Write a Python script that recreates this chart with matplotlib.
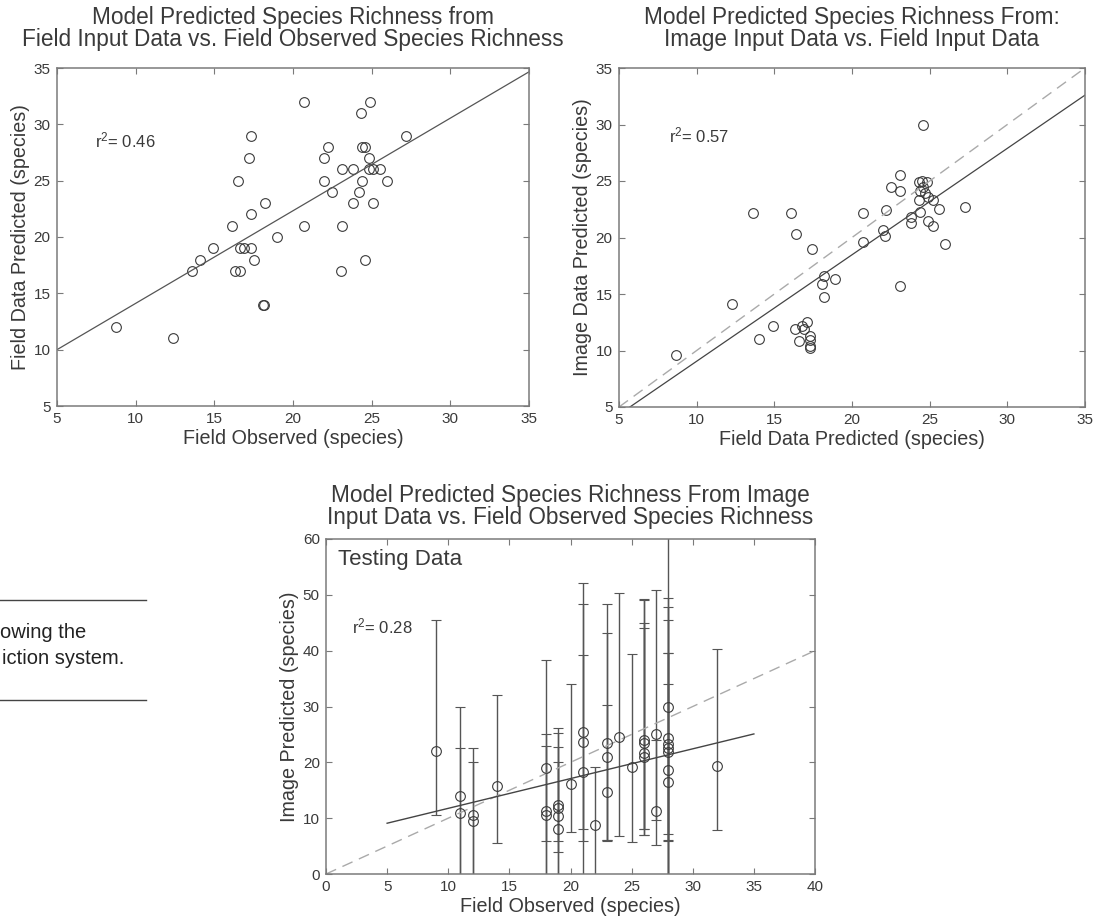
import matplotlib
matplotlib.use('Agg')
import matplotlib.pyplot as plt
from matplotlib.lines import Line2D
import numpy as np

plt.rcParams['font.family'] = ['Liberation Sans', 'DejaVu Sans']
plt.rcParams['mathtext.default'] = 'regular'

# --- top left: field input model vs field observed
tl_obs = [20.7, 24.9, 24.3, 17.3, 27.2, 17.2, 22.2, 24.4, 24.6, 22.0, 24.8,
          16.5, 23.1, 23.8, 24.8, 25.1, 25.5, 22.0, 24.4, 26.0, 22.5, 24.2,
          18.2, 23.8, 25.1, 17.3, 16.1, 20.7, 23.1, 19.0, 14.9, 16.6, 16.9,
          17.3, 14.1, 17.5, 24.6, 13.6, 16.3, 16.6, 23.05, 18.1, 18.15, 8.75, 12.35]
tl_pred = [32, 32, 31, 29, 29, 27, 28, 28, 28, 27, 27,
           25, 26, 26, 26, 26, 26, 25, 25, 25, 24, 24,
           23, 23, 23, 22, 21, 21, 21, 20, 19, 19, 19,
           19, 18, 18, 18, 17, 17, 17, 17, 14, 14, 12, 11]
tl_fit = (0.822, 5.89)
tl_r2 = 'r$^{2}$= 0.46'

# --- top right: image input model vs field input model
tr_field = [24.6, 13.6, 16.1, 16.4, 17.4, 20.7, 20.7, 22.2, 22.0, 22.1,
            22.5, 23.1, 23.1, 24.3, 24.5, 24.8, 24.6, 24.4, 24.7, 24.3, 24.9,
            25.2, 23.8, 23.8, 24.4, 24.9, 25.2, 25.6, 27.3, 26.0, 18.2, 18.1,
            18.9, 18.2, 23.1, 12.3, 14.9, 14.0, 16.3, 16.8, 17.1, 16.9, 16.6,
            17.3, 17.3, 17.3, 17.3, 8.7]
tr_image = [30.0, 22.2, 22.2, 20.3, 19.0, 22.2, 19.6, 22.4, 20.7, 20.1,
            24.5, 25.5, 24.1, 24.9, 25.0, 24.9, 24.5, 24.1, 23.9, 23.3, 23.6,
            23.3, 21.8, 21.3, 22.3, 21.5, 21.0, 22.5, 22.7, 19.4, 16.6, 15.9,
            16.3, 14.7, 15.7, 14.1, 12.2, 11.0, 11.9, 12.2, 12.5, 11.9, 10.8,
            11.3, 10.9, 10.4, 10.2, 9.6]
tr_fit = (0.942, -0.37)
tr_r2 = 'r$^{2}$= 0.57'

# --- bottom: testing data, image model vs field observed, with intervals
test_obs = [9, 11, 11, 12, 12, 14, 18, 18, 18, 19, 19, 19, 19, 20,
            21, 21, 21, 22, 23, 23, 23, 24, 25, 26, 26, 26, 26, 27, 27,
            28, 28, 28, 28, 28, 28, 28, 32]
test_pred = [22.0, 14.0, 11.0, 10.5, 9.5, 15.8, 19.0, 11.2, 10.6, 12.4, 11.8, 10.3, 8.0, 16.2,
             25.5, 23.7, 18.3, 8.8, 23.4, 21.0, 14.6, 24.6, 19.2, 24.0, 23.5, 21.7, 21.0, 25.0, 11.3,
             30.0, 24.3, 23.2, 22.5, 21.9, 18.6, 16.5, 19.4]
test_lo = [10.6, -2, -2, -2, -2, 5.5, 5.9, -2, -2, -2, 5.9, 4.0, -2, 7.6,
           -2, 6.0, 8.0, -2, 6.1, 6.1, 6.0, 6.8, 5.8, 8.0, 7.0, 8.0, 7.0, 5.2, 9.7,
           -2, 7.1, 6.1, -2, 6.0, -2, -2, 7.8]
test_hi = [45.5, 30.0, 22.6, 22.6, 20.1, 32.1, 38.4, 25.1, 22.9, 26.1, 25.2, 22.8, 20.0, 34.1,
           52.2, 48.4, 39.3, 19.2, 48.4, 43.1, 30.2, 50.4, 39.4, 49.2, 49.0, 45.0, 44.0, 50.9, 24.0,
           65.0, 49.4, 47.9, 45.5, 39.6, 34.0, 39.6, 40.3]
test_fit = (0.533, 6.43)
test_r2 = 'r$^{2}$= 0.28'

ink = '#3a3a3a'
frame = '#7a7a7a'
TITLE = 16.3
LABEL = 14.2


def style_axes(ax, lim, ticks):
    ax.set_xlim(lim[0])
    ax.set_ylim(lim[1])
    ax.set_xticks(ticks[0])
    ax.set_yticks(ticks[1])
    ax.tick_params(direction='in', top=True, right=True, length=4, width=0.8,
                   color=frame, labelsize=11, labelcolor=ink, pad=4.5)
    for s in ax.spines.values():
        s.set_color(frame)
        s.set_linewidth(1.1)


fig = plt.figure(figsize=(10.94, 9.16), dpi=100)

# top left
ax1 = fig.add_axes([57 / 1094, 1 - 406 / 916, 472 / 1094, 338 / 916])
ax1.plot(tl_obs, tl_pred, 'o', mfc='none', mec=ink, mew=0.8, ms=7)
xs = np.array([5, 35])
ax1.plot(xs, tl_fit[0] * xs + tl_fit[1], color='#555555', lw=0.9)
ax1.text(7.4, 28.6, tl_r2, fontsize=12, color=ink, va='center')
style_axes(ax1, [(5, 35), (5, 35)], [range(5, 36, 5), range(5, 36, 5)])
ax1.set_xlabel('Field Observed (species)', fontsize=LABEL, color=ink, labelpad=2)
ax1.set_ylabel('Field Data Predicted (species)', fontsize=LABEL, color=ink, labelpad=3)
ax1.set_title('Model Predicted Species Richness from\n'
              'Field Input Data vs. Field Observed Species Richness',
              fontsize=TITLE, color=ink, pad=16, linespacing=0.92)

# top right
ax2 = fig.add_axes([619 / 1094, 1 - 407 / 916, 466 / 1094, 339 / 916])
ax2.plot(tr_field, tr_image, 'o', mfc='none', mec=ink, mew=0.8, ms=7)
ax2.plot([5, 35], [5, 35], color='#aaaaaa', lw=1.0, dashes=(8, 5))
xs = np.array([5.7, 35])
ax2.plot(xs, tr_fit[0] * xs + tr_fit[1], color='#444444', lw=0.9)
ax2.text(8.2, 29.0, tr_r2, fontsize=12, color=ink, va='center')
style_axes(ax2, [(5, 35), (5, 35)], [range(5, 36, 5), range(5, 36, 5)])
ax2.set_xlabel('Field Data Predicted (species)', fontsize=LABEL, color=ink, labelpad=2)
ax2.set_ylabel('Image Data Predicted (species)', fontsize=LABEL, color=ink, labelpad=3)
ax2.set_title('Model Predicted Species Richness From:\n'
              'Image Input Data vs. Field Input Data',
              fontsize=TITLE, color=ink, pad=16, linespacing=0.92)

# bottom
ax3 = fig.add_axes([326 / 1094, 1 - 874 / 916, 489 / 1094, 335 / 916])
obs = np.array(test_obs, float)
pred = np.array(test_pred)
yerr = [pred - np.array(test_lo), np.array(test_hi) - pred]
ax3.errorbar(obs, pred, yerr=yerr, fmt='o', mfc='none', mec=ink, mew=0.8, ms=7,
             ecolor='#555555', elinewidth=1.0, capsize=3.5, capthick=1.0)
ax3.plot([0, 40], [0, 40], color='#aaaaaa', lw=1.0, dashes=(8, 5))
xs = np.array([5, 35])
ax3.plot(xs, test_fit[0] * xs + test_fit[1], color='#444444', lw=1.0)
ax3.text(1.0, 56.3, 'Testing Data', fontsize=16, color=ink, va='center')
ax3.text(2.1, 44.3, test_r2, fontsize=12, color=ink, va='center')
style_axes(ax3, [(0, 40), (0, 60)], [range(0, 41, 5), range(0, 61, 10)])
ax3.set_xlabel('Field Observed (species)', fontsize=LABEL, color=ink, labelpad=2)
ax3.set_ylabel('Image Predicted (species)', fontsize=LABEL, color=ink, labelpad=3)
ax3.set_title('Model Predicted Species Richness From Image\n'
              'Input Data vs. Field Observed Species Richness',
              fontsize=TITLE, color=ink, pad=11, linespacing=0.95)

# cut-off caption on the left
fig.add_artist(Line2D([0, 146 / 1094], [1 - 600 / 916] * 2, color='#444444', lw=1.0))
fig.add_artist(Line2D([0, 146 / 1094], [1 - 700 / 916] * 2, color='#444444', lw=1.0))
fig.text(0.0, 1 - 632 / 916, 'owing the', fontsize=14.5, color='#222222', va='center')
fig.text(0.002, 1 - 658 / 916, 'iction system.', fontsize=14.5, color='#222222', va='center')

fig.savefig('out.png', dpi=100)
